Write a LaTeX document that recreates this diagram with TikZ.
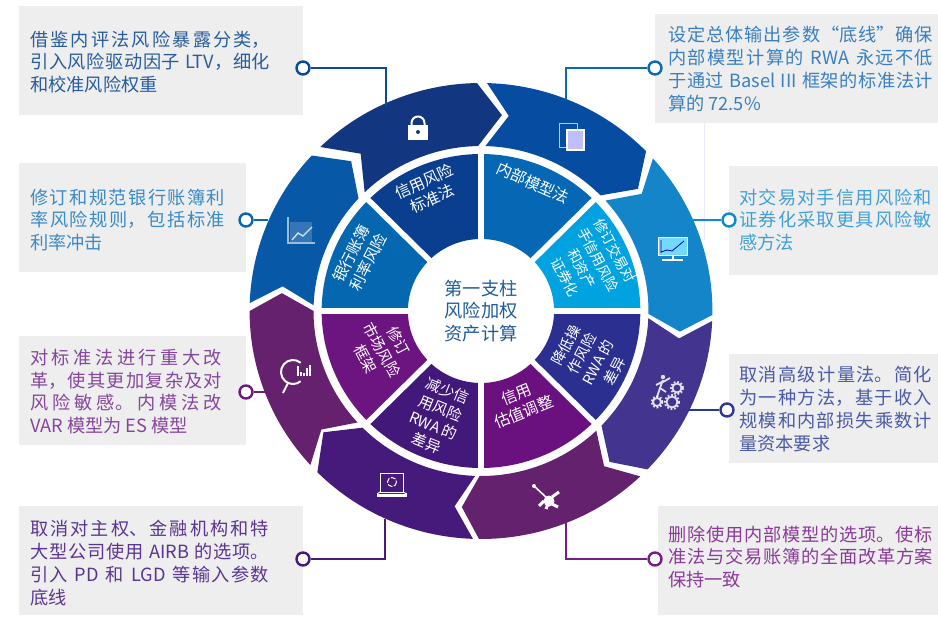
\documentclass[tikz,border=0pt]{standalone}
\usepackage{fontspec}
\setmainfont{Noto Sans CJK SC}
\XeTeXlinebreaklocale "zh"
\XeTeXlinebreakskip=0pt plus 1pt
\tolerance=9999
\hbadness=10000
\definecolor{boxgray}{HTML}{EEEEEE}
\tikzset{
    box/.style={fill=boxgray, inner sep=0, anchor=north west},
    note/.style={inner sep=0, anchor=west, align=justify, font=\fontsize{18.2}{22.8}\selectfont},
    dot/.style={circle, draw, fill=white, line width=2.4pt, minimum size=13pt, inner sep=0},
    wlabel/.style={white, inner sep=0, align=center, font=\fontsize{15.5}{19}\selectfont},
    link/.style={line width=1.5pt},
    iconline/.style={draw=white, line width=.9pt},
}
% one arrow of the outer ring: colour, tail, notch, head, tip (degrees)
\newcommand{\ringarrow}[5]{
    \fill [#1] (#2:228) arc [start angle=#2, end angle=#4, radius=228]
        -- (#5:197) -- (#4:165) arc [start angle=#4, end angle=#2, radius=165]
        -- (#3:197) -- cycle;
}
\begin{document}
\begin{tikzpicture}[x=1pt, y=-1pt]
    \useasboundingbox (0,0) rectangle (938,618);

    \draw [color=blue!8, line width=.6pt] (704,123) -- (704,240);

    % wheel
    \begin{scope}[shift={(481,311)}, x=1.015pt, y=1pt]
        \ringarrow{color={rgb,255:red,19;green,54;blue,128}}{134}{127}{91}{84}
        \ringarrow{color={rgb,255:red,6;green,76;blue,160}}{88.5}{82}{44.5}{38.3}
        \ringarrow{color={rgb,255:red,21;green,133;blue,201}}{42}{36.5}{-1}{-6}
        \ringarrow{color={rgb,255:red,67;green,52;blue,143}}{-2.5}{-8}{-44}{-50}
        \ringarrow{color={rgb,255:red,100;green,33;blue,110}}{-46.5}{-52}{-90.5}{-95.5}
        \ringarrow{color={rgb,255:red,70;green,26;blue,122}}{-92}{-97.6}{-135}{-142}
        \ringarrow{color={rgb,255:red,102;green,33;blue,110}}{-137.5}{-143}{-180}{-185.2}
        \ringarrow{color={rgb,255:red,8;green,88;blue,168}}{178}{172.8}{137}{130.5}

        \foreach \col/\from in {
            {rgb,255:red,10;green,63;blue,143}/90,
            {rgb,255:red,4;green,103;blue,176}/135,
            {rgb,255:red,108;green,20;blue,128}/180,
            {rgb,255:red,66;green,24;blue,122}/225,
            {rgb,255:red,106;green,17;blue,127}/270,
            {rgb,255:red,43;green,48;blue,144}/315,
            {rgb,255:red,0;green,163;blue,224}/0,
            {rgb,255:red,6;green,104;blue,180}/45} {
            \pgfmathsetmacro{\tom}{\from+45}
            \fill [color=\col] (\from:157) arc [start angle=\from, end angle=\tom, radius=157]
                -- (\tom:72) arc [start angle=\tom, end angle=\from, radius=72] -- cycle;
        }
        \foreach \ang in {0,45,...,315}
            \draw [white, line width=5.5pt] (\ang:68) -- (\ang:160);
    \end{scope}

    % wheel labels
    \node (centre) [inner sep=0, align=center, text={rgb,255:red,29;green,92;blue,155}, font=\fontsize{18.2}{22.5}\selectfont] at (481,311) {第一支柱\\风险加权\\资产计算};
    \node (credit) [wlabel, rotate=24] at (428,190) {信用风险\\标准法};
    \node (internal) [wlabel, rotate=-24] at (533,183) {内部模型法};
    \node (trade) [wlabel, rotate=-62, font=\fontsize{14}{18.8}\selectfont] at (590,264) {修订交易对\\手信用风险\\和资产\\证券化};
    \node (oper) [wlabel, rotate=62, font=\fontsize{14.5}{18.3}\selectfont] at (590,358) {降低操\\作风险\\RWA 的\\差异};
    \node (cva) [wlabel, rotate=22] at (520,403) {信用\\估值调整};
    \node (rwa) [wlabel, rotate=-22, font=\fontsize{15}{18.8}\selectfont] at (437,417) {减少信\\用风险\\RWA 的\\差异};
    \node (market) [wlabel, rotate=-62, font=\fontsize{15}{18.5}\selectfont] at (382,350) {修订\\市场风险\\框架};
    \node (bank) [wlabel, rotate=63] at (360,258) {银行账簿\\利率风险};

    % icons
    \fill [white] (408,125) rectangle (428,140);
    \fill [color={rgb,255:red,19;green,54;blue,128}] (418,132) circle (2);
    \draw [white, line width=2pt] (411.5,125) -- (411.5,123) arc [start angle=180, end angle=360, radius=6.5] -- (424.5,125);

    \draw [iconline, opacity=.7] (559,123) rectangle (577,147);
    \draw [white, line width=1.4pt, fill=blue!25!white] (567,130) rectangle (584,150);

    \draw [iconline, fill=white!75!blue!60!cyan] (658,237) rectangle (687,255);
    \draw [color=blue!70!black, line width=.8pt] (661,253) -- (661,240) (661,252) -- (667,250) -- (672,251) -- (684,241);
    \draw [white, line width=2pt] (673,255) -- (673,260);
    \draw [white, line width=1.6pt] (662,260) -- (683,260);

    \draw [white, opacity=.6, line width=1.2pt] (288,217) -- (288,243) -- (315,243);
    \fill [white, opacity=.18] (290,222) rectangle (312,242);
    \draw [white, opacity=.8, line width=1.3pt] (292,240) -- (298,233) -- (303,236) -- (312,227);

    \draw [white, line width=2pt] ([shift={(-50:12)}]293,372) arc [start angle=-50, end angle=-310, radius=12];
    \draw [white, line width=2pt] (288,383) -- (283,393);
    \foreach \bx/\bh in {297/10,300/4,303/3,306/8,309/11}
        \fill [white] (\bx,376) rectangle ++(1.8,-\bh);

    \fill [white, opacity=.85] (663,377) circle (2.2);
    \draw [white, opacity=.85, line width=1.8pt] (663,380) -- (660,388) -- (657,397) (660,388) -- (666,392) (663,382) -- (670,378) (662,382) -- (656,385);
    \foreach \gx/\gy/\gr in {677/388/4.5,672/402/5.5,657/402/4} {
        \draw [white, opacity=.85, line width=1.8pt] (\gx,\gy) circle (\gr);
        \draw [white, opacity=.85, line width=1.8pt, dash pattern=on 1.8pt off 1.8pt] (\gx,\gy) circle (\gr+1.6);
    }

    \draw [white, line width=1.6pt] (534,486) -- (547,498);
    \fill [white] (534,486) circle (2);
    \fill [white] (549,501) circle (5.5);
    \draw [white, line width=3pt] (544,501) -- (539,506) (552,497) -- (559,492) (552,504) -- (558,507) (548,504) -- (546,509);

    \draw [iconline] (380,473) rectangle (403,492);
    \draw [white, line width=1pt, dash pattern=on 5pt off 1.5pt] (392,482) circle (4.5);
    \fill [white] (377,494) rectangle (407,497);
    \draw [iconline] (380,492) -- (377,494) (403,492) -- (407,494);

    % text boxes
    \begin{scope}
        \node (tlbox) [box, minimum width=284pt, minimum height=109pt] at (19,6) {};
        \node (lbbox) [box, minimum width=227pt, minimum height=109pt] at (19,163) {};
        \node (lvbox) [box, minimum width=227pt, minimum height=109pt] at (19,336) {};
        \node (ldbox) [box, minimum width=284pt, minimum height=109pt] at (19,506) {};
        \node (trbox) [box, minimum width=283pt, minimum height=109pt] at (655,14) {};
        \node (rcbox) [box, minimum width=209pt, minimum height=109pt] at (729,166) {};
        \node (rabox) [box, minimum width=209pt, minimum height=109pt] at (729,354) {};
        \node (rdbox) [box, minimum width=280pt, minimum height=109pt] at (658,506) {};
    \end{scope}

    \node (tltext) [note, text width=240pt, text={rgb,255:red,40;green,92;blue,156}] at (30,62) {借鉴内评法风险暴露分类，\linebreak 引入风险驱动因子 LTV，细化\linebreak 和校准风险权重};
    \node (lbtext) [note, text width=195pt, text={rgb,255:red,58;green,138;blue,198}] at (30,220) {修订和规范银行账簿利\linebreak 率风险规则，包括标准\linebreak 利率冲击};
    \node (lvtext) [note, text width=192pt, text={rgb,255:red,133;green,70;blue,156}] at (30,391.5) {对标准法进行重大改\linebreak 革，使其更加复杂及对\linebreak 风险敏感。内模法改\linebreak VAR 模型为 ES 模型};
    \node (ldtext) [note, text width=239pt, text={rgb,255:red,91;green,53;blue,146}] at (30,563) {取消对主权、金融机构和特\linebreak 大型公司使用 AIRB 的选项。\linebreak 引入 PD 和 LGD 等输入参数\linebreak 底线};
    \node (trtext) [note, text width=265pt, text={rgb,255:red,58;green,128;blue,191}] at (668,69) {设定总体输出参数“底线”确保\linebreak 内部模型计算的 RWA 永远不低\linebreak 于通过 Basel III 框架的标准法计\linebreak 算的 72.5\%};
    \node (rctext) [note, text width=193pt, text={rgb,255:red,63;green,160;blue,216}] at (739,220) {对交易对手信用风险和\linebreak 证券化采取更具风险敏\linebreak 感方法};
    \node (ratext) [note, text width=193pt, text={rgb,255:red,74;green,90;blue,168}] at (739,409) {取消高级计量法。简化\linebreak 为一种方法，基于收入\linebreak 规模和内部损失乘数计\linebreak 量资本要求};
    \node (rdtext) [note, text width=265pt, text={rgb,255:red,138;green,58;blue,152}] at (668,557) {删除使用内部模型的选项。使标\linebreak 准法与交易账簿的全面改革方案\linebreak 保持一致};

    % connectors
    \coordinate (tlend) at (386,106);
    \coordinate (lbend) at (268,220);
    \coordinate (lvend) at (266,392);
    \coordinate (ldend) at (385,519);
    \coordinate (trend) at (566,100);
    \coordinate (rcend) at (690,220);
    \coordinate (raend) at (688,410);
    \coordinate (rdend) at (566,522);

    \node (tldot) [dot, draw={rgb,255:red,10;green,74;blue,155}] at (303,68) {};
    \node (lbdot) [dot, draw={rgb,255:red,10;green,102;blue,176}] at (246,220) {};
    \node (lvdot) [dot, draw={rgb,255:red,106;green,26;blue,128}] at (246,392) {};
    \node (lddot) [dot, draw={rgb,255:red,71;green,25;blue,122}] at (303,559) {};
    \node (trdot) [dot, draw={rgb,255:red,10;green,106;blue,180}] at (655,68) {};
    \node (rcdot) [dot, draw={rgb,255:red,14;green,138;blue,208}] at (729,220) {};
    \node (radot) [dot, draw={rgb,255:red,46;green,55;blue,150}] at (727,410) {};
    \node (rddot) [dot, draw={rgb,255:red,118;green,30;blue,133}] at (655,559) {};

    \draw [link, color={rgb,255:red,10;green,74;blue,155}] (tldot) -| (tlend);
    \draw [link, color={rgb,255:red,10;green,102;blue,176}] (lbdot) -- (lbend);
    \draw [link, color={rgb,255:red,106;green,26;blue,128}] (lvdot) -- (lvend);
    \draw [link, color={rgb,255:red,71;green,25;blue,122}] (lddot) -| (ldend);
    \draw [link, color={rgb,255:red,10;green,106;blue,180}] (trdot) -| (trend);
    \draw [link, color={rgb,255:red,14;green,138;blue,208}] (rcdot) -- (rcend);
    \draw [link, color={rgb,255:red,46;green,55;blue,150}] (radot) -- (raend);
    \draw [link, color={rgb,255:red,118;green,30;blue,133}] (rddot) -| (rdend);
\end{tikzpicture}
\end{document}
